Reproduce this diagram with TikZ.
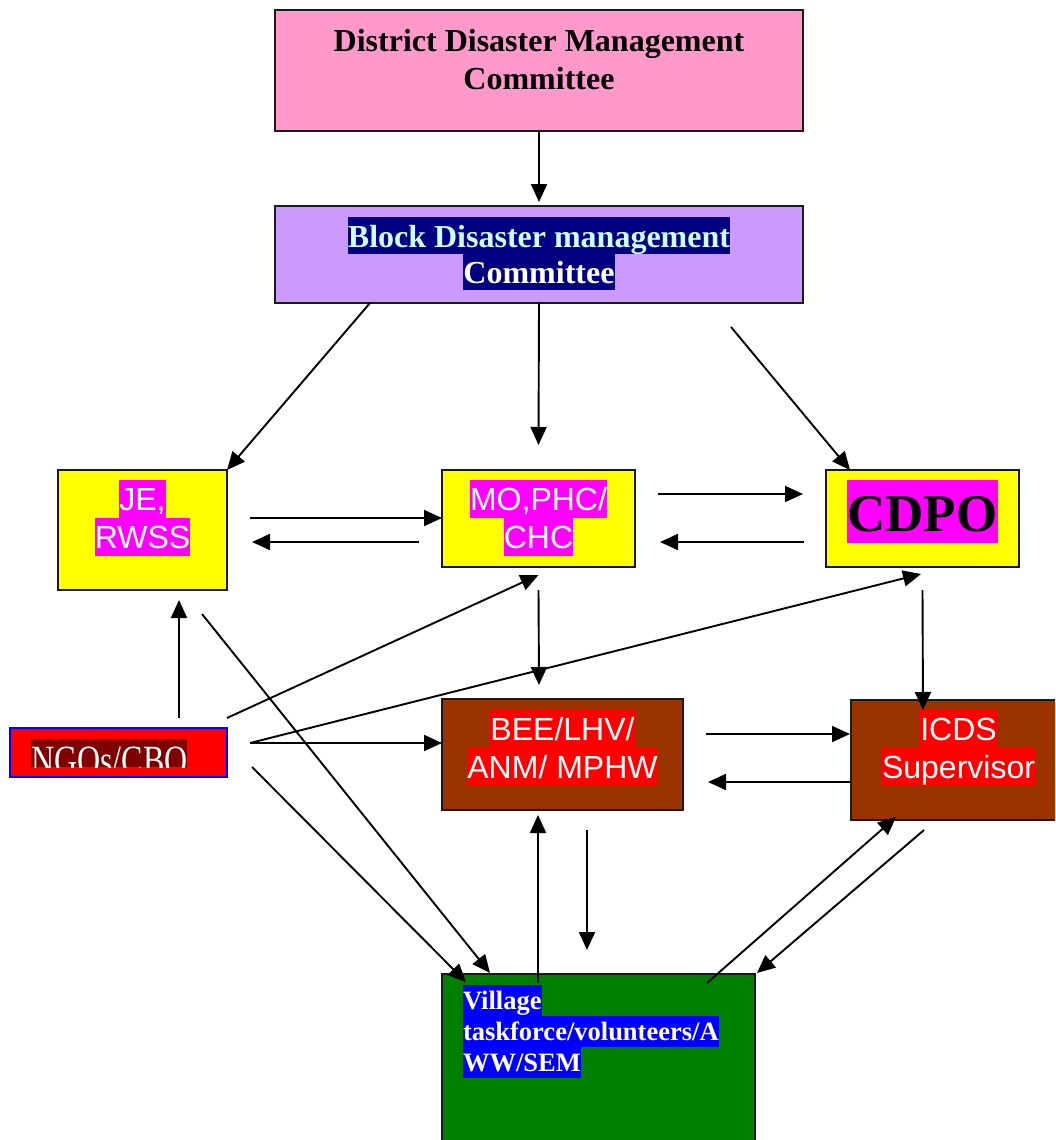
\documentclass[tikz,border=0pt]{standalone}
\usepackage{fontspec}
\usepackage{graphicx}
\setmainfont{Liberation Serif}
\newfontfamily\arialf{Liberation Sans}
\usetikzlibrary{arrows.meta}
\definecolor{ddpink}{HTML}{FF99CC}
\definecolor{bdlilac}{HTML}{CC99FF}
\definecolor{navyhl}{HTML}{000080}
\definecolor{lightcyan}{HTML}{CCFFFF}
\definecolor{boxyellow}{HTML}{FFFF00}
\definecolor{magentahl}{HTML}{FF00FF}
\definecolor{boxbrown}{HTML}{993300}
\definecolor{redhl}{HTML}{FF0000}
\definecolor{boxgreen}{HTML}{008000}
\definecolor{bluehl}{HTML}{0000FF}
\definecolor{maroonhl}{HTML}{800000}
\definecolor{boxline}{HTML}{1A1A1A}
\newcommand{\hlline}[4]{{\setlength{\fboxsep}{0pt}\colorbox{#1}{\rule[-#3]{0pt}{\dimexpr#2+#3\relax}#4}}}
\newcommand{\plainline}[3]{\rule[-#2]{0pt}{\dimexpr#1+#2\relax}#3}
\newcommand{\cbox}[4]{\parbox[c][#2][t]{#1}{\offinterlineskip\centering\vspace*{#3}#4}}
\newcommand{\lbox}[5]{\parbox[c][#2][t]{#1}{\offinterlineskip\raggedright\leftskip=#4\relax\vspace*{#3}#5}}
\tikzset{
  box/.style={draw=boxline, line width=1.8pt, rectangle, inner sep=0pt, outer sep=0pt},
  arr/.style={line width=1.9pt, draw=black, -{Triangle[length=18pt,width=16pt]}},
}
\begin{document}
\begin{tikzpicture}[x=1pt,y=-1pt]
\useasboundingbox (0,0) rectangle (1055,1140);
\clip (0,0) rectangle (1055,1140);

% boxes
\node[box, fill=ddpink] (ddmc) at (539,70.5)
  {\cbox{528pt}{121pt}{12pt}{\fontsize{32}{36}\bfseries\selectfont
   \plainline{30pt}{6pt}{District Disaster Management}\par
   \plainline{30pt}{6pt}{Committee}}};

\node[box, fill=bdlilac] (bdmc) at (539,254.5)
  {\cbox{528pt}{97pt}{11pt}{\fontsize{32}{36}\bfseries\selectfont
   \hlline{navyhl}{30pt}{7pt}{\color{lightcyan}Block Disaster management}\par
   \hlline{navyhl}{29pt}{7pt}{\color{white}Committee}}};

\node[box, fill=boxyellow] (je) at (142.5,530)
  {\cbox{169pt}{120pt}{10pt}{\arialf\fontsize{32}{38}\selectfont\color{white}
   \hlline{magentahl}{30pt}{8pt}{JE,}\par
   \hlline{magentahl}{30pt}{8pt}{RWSS}}};

\node[box, fill=boxyellow] (mo) at (538.5,518.5)
  {\cbox{193pt}{97pt}{10pt}{\arialf\fontsize{32}{38}\selectfont\color{white}
   \hlline{magentahl}{30pt}{8pt}{MO,PHC/}\par
   \hlline{magentahl}{30pt}{8pt}{CHC}}};

\node[box, fill=boxyellow] (cdpo) at (922.5,518.5)
  {\cbox{193pt}{97pt}{10pt}{\fontsize{53}{63}\bfseries\selectfont
   \hlline{magentahl}{51pt}{12pt}{CDPO}}};

\node[box, draw=bluehl, fill=redhl] (ngo) at (118.5,752.5) {\parbox[c][49pt][t]{217pt}{\mbox{}}};
\begin{scope}
  \clip (31,739) rectangle (187,767);
  \fill[maroonhl] (31,739) rectangle (187,767);
  \node[anchor=base west, inner sep=0pt, text=white, font=\fontsize{32}{36}\selectfont] (ngot) at (31,774)
    {\scalebox{1}[1.3]{NGOs/CBO}};
\end{scope}

\node[box, fill=boxbrown] (bee) at (562.5,754.5)
  {\cbox{241pt}{111pt}{11pt}{\arialf\fontsize{32}{38}\selectfont\color{white}
   \hlline{redhl}{30pt}{8pt}{BEE/LHV/}\par
   \hlline{redhl}{30pt}{8pt}{ANM/ MPHW}}};

\node[box, fill=boxbrown] (icds) at (958.5,760)
  {\cbox{215pt}{120pt}{10pt}{\arialf\fontsize{32}{38}\selectfont\color{white}
   \hlline{redhl}{30pt}{8pt}{ICDS}\par
   \hlline{redhl}{30pt}{8pt}{Supervisor}}};

\node[box, fill=boxgreen] (vil) at (598.5,1062)
  {\lbox{313pt}{176pt}{11pt}{21pt}{\fontsize{26.5}{31}\bfseries\selectfont\color{white}
   \hlline{bluehl}{24pt}{7pt}{Village}\par
   \hlline{bluehl}{24pt}{7pt}{taskforce/volunteers/A}\par
   \hlline{bluehl}{24pt}{7pt}{WW/SEM}}};

% connectors
\draw[arr] (ddmc.south) -- ([yshift=4pt]bdmc.north);
\draw[arr] ([xshift=-169pt]bdmc.south) -- (je.north east);
\draw[arr] (bdmc.south) -- ([yshift=25pt]mo.north);
\draw[arr] ([xshift=192pt,yshift=-24pt]bdmc.south) -- ([xshift=24pt]cdpo.north west);

\draw[arr] ([xshift=23pt,yshift=12pt]je.east) -- ([yshift=0.5pt]mo.west);
\draw[arr] ([xshift=-23pt,yshift=-23.5pt]mo.west) -- ([xshift=25pt,yshift=-12pt]je.east);
\draw[arr] ([xshift=23pt,yshift=24.5pt]mo.east) -- ([xshift=-23pt,yshift=24.5pt]cdpo.west);
\draw[arr] ([xshift=-22pt,yshift=-23.5pt]cdpo.west) -- ([xshift=25pt,yshift=-23.5pt]mo.east);

\draw[arr] ([xshift=60.5pt,yshift=10pt]ngo.north) -- ([xshift=36.5pt,yshift=-10pt]je.south);
\draw[arr] ([xshift=59.5pt,yshift=-24pt]je.south) -- ([xshift=-108.5pt,yshift=1pt]vil.north);
\draw[arr] ([yshift=10pt]ngo.north east) -- ([yshift=-8pt]mo.south);
\draw[arr] ([xshift=23pt,yshift=9.5pt]ngo.east) -- ([xshift=-1.5pt,yshift=-7pt]cdpo.south);
\draw[arr] ([xshift=23pt,yshift=9.5pt]ngo.east) -- ([yshift=11.5pt]bee.west);
\draw[arr] ([xshift=25pt,yshift=-14.5pt]ngo.east) -- ([xshift=24pt,yshift=-8pt]vil.north west);

\draw[arr] ([yshift=-23pt]mo.south) -- ([xshift=-23.5pt,yshift=14pt]bee.north);
\draw[arr] ([yshift=-23pt]cdpo.south) -- ([xshift=-35.5pt,yshift=-10pt]icds.north);
\draw[arr] ([xshift=23pt,yshift=20.5pt]bee.east) -- ([xshift=-1pt,yshift=20.5pt]bee.east -| icds.west);
\draw[arr] ([yshift=-22pt]icds.west) -- ([xshift=25pt,yshift=-27.5pt]bee.east);

\draw[arr] ([xshift=-60.5pt,yshift=-9pt]vil.north) -- ([xshift=-24.5pt,yshift=-5pt]bee.south);
\draw[arr] ([xshift=24.5pt,yshift=-20pt]bee.south) -- ([xshift=-11.5pt,yshift=24pt]vil.north);
\draw[arr] ([xshift=108.5pt,yshift=-9pt]vil.north) -- ([xshift=-62.5pt,yshift=3pt]icds.south);
\draw[arr] ([xshift=-34.5pt,yshift=-10pt]icds.south) -- ([xshift=2pt,yshift=1pt]vil.north east);
\end{tikzpicture}
\end{document}
